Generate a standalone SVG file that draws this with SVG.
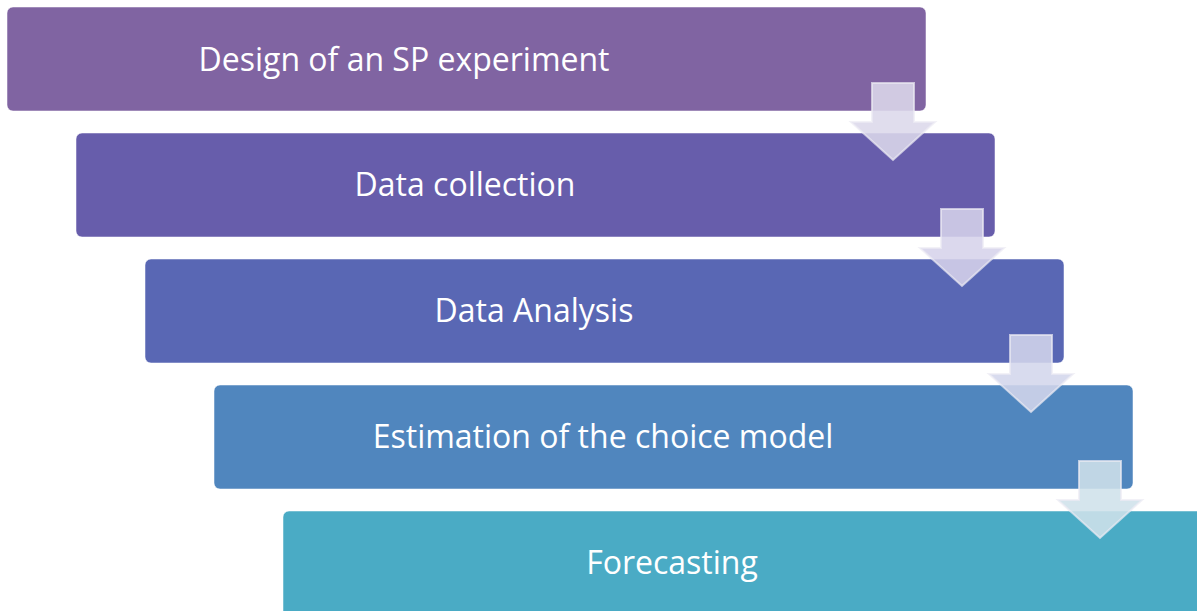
<svg xmlns="http://www.w3.org/2000/svg" width="1197" height="611" viewBox="0 0 1197 611">
<style>
.box{stroke:#ffffff;stroke-opacity:0.5;stroke-width:1}
.lbl{font-family:"Open Sans","Noto Sans",sans-serif;font-size:32px;fill:#ffffff;text-anchor:middle}
.arr{fill:#dcd8ea;fill-opacity:0.88;stroke:#ecebf3;stroke-opacity:0.7;stroke-width:2;stroke-linejoin:miter}
</style>
<defs>
<path id="arrow" d="M-21,0 H21 V39 H42 L0,77 L-42,39 H-21 Z"/>
</defs>
<rect width="1197" height="611" fill="#ffffff"/>
<g id="node1"><rect class="box" x="7" y="7" width="919" height="104" rx="6" fill="#8064a2"/><text class="lbl" x="404" y="71">Design of an SP experiment</text></g>
<g id="node2"><rect class="box" x="76" y="133" width="919" height="104" rx="6" fill="#675dab"/><text class="lbl" x="465" y="196">Data collection</text></g>
<g id="node3"><rect class="box" x="145" y="259" width="919" height="104" rx="6" fill="#5967b4"/><text class="lbl" x="534" y="322">Data Analysis</text></g>
<g id="node4"><rect class="box" x="214" y="385" width="919" height="104" rx="6" fill="#5086be"/><text class="lbl" x="603" y="448">Estimation of the choice model</text></g>
<g id="node5"><rect class="box" x="283" y="511" width="930" height="110" rx="6" fill="#4aabc5"/><text class="lbl" x="672" y="574">Forecasting</text></g>
<g id="connectors">
<use href="#arrow" class="arr" x="893" y="83"/>
<use href="#arrow" class="arr" x="962" y="209" style="fill:#d6d3ea"/>
<use href="#arrow" class="arr" x="1031" y="335" style="fill:#d3d6ec"/>
<use href="#arrow" class="arr" x="1100" y="461" style="fill:#cfe1ea"/>
</g>
</svg>
